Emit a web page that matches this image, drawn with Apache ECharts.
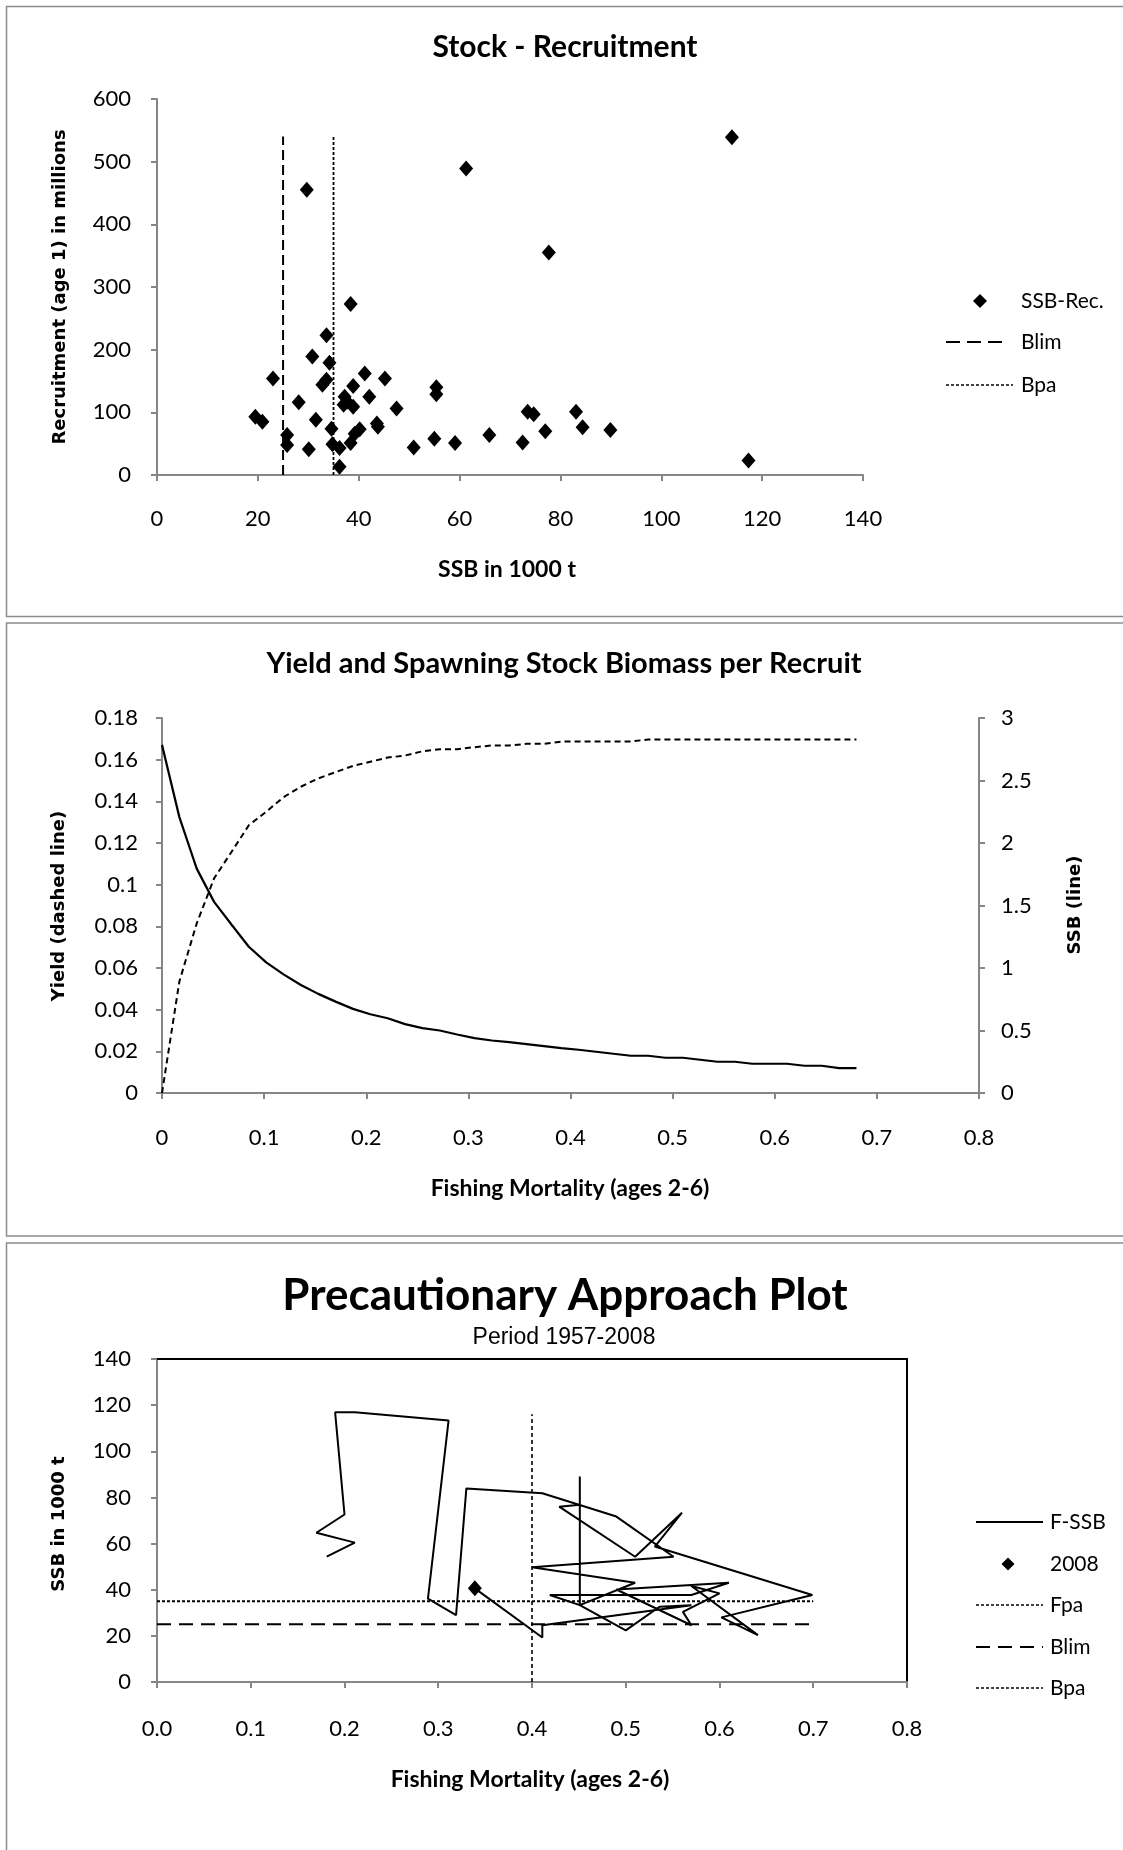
<!DOCTYPE html>
<html>
<head>
<meta charset="utf-8">
<title>Stock - Recruitment</title>
<script src="https://cdn.jsdelivr.net/npm/echarts@6.0.0/dist/echarts.min.js"></script>
<style>
  html, body { margin: 0; padding: 0; background: #fff; }
  #chart { width: 1123px; height: 1850px; }
</style>
</head>
<body>
<div id="chart"></div>
<script>
// stock - recruitment (SSB in 1000 t, recruits in millions)
var ssbValues = [61.3, 29.7, 38.4, 33.6, 30.8, 34.2, 23.0, 41.2, 45.2, 33.6, 32.8, 38.9, 55.4, 55.4, 42.1, 37.2, 28.1,
                 37.7, 37.0, 38.9, 47.5, 19.5, 20.9, 31.5, 43.6, 43.8, 34.6, 40.2, 39.2, 65.9, 25.8, 55.0, 25.8, 38.4,
                 34.8, 59.1, 30.1, 36.2, 50.9, 36.2, 114.0, 77.7, 73.5, 74.7, 83.1, 77.0, 84.4, 89.9, 72.5, 117.3];
var recValues = [489, 455, 273, 223, 189, 179, 154, 162, 154, 152, 144, 142, 140, 129, 125, 125, 116,
                 117, 112, 109, 106, 93, 85, 88, 82, 77, 74, 73, 66, 64, 64, 58, 48, 51,
                 49, 51, 41, 43, 44, 13, 539, 355, 101, 97, 101, 70, 76, 72, 52, 23];
var blim = 25, bpa = 35, refTop = 540;

// yield and SSB per recruit
var fMort = [0, 0.017, 0.034, 0.051, 0.068, 0.085, 0.102, 0.119, 0.136, 0.153, 0.17, 0.187, 0.204, 0.221,
             0.238, 0.255, 0.272, 0.289, 0.306, 0.323, 0.34, 0.357, 0.374, 0.391, 0.408, 0.425, 0.442, 0.459,
             0.476, 0.493, 0.51, 0.527, 0.544, 0.561, 0.578, 0.595, 0.612, 0.629, 0.646, 0.663, 0.68];
var yieldPR = [0, 0.0535, 0.0814, 0.103, 0.1157, 0.1285, 0.135, 0.142, 0.147, 0.151, 0.154, 0.157, 0.159, 0.161,
               0.162, 0.164, 0.165, 0.165, 0.166, 0.1668, 0.1668, 0.1676, 0.1676, 0.1687, 0.1687, 0.1687, 0.1687, 0.1687,
               0.1697, 0.1697, 0.1697, 0.1697, 0.1697, 0.1697, 0.1697, 0.1697, 0.1697, 0.1697, 0.1697, 0.1697, 0.1697];
var ssbPR = [2.785, 2.207, 1.795, 1.529, 1.348, 1.170, 1.045, 0.949, 0.864, 0.793, 0.731, 0.673, 0.630, 0.598,
             0.551, 0.519, 0.500, 0.468, 0.439, 0.420, 0.407, 0.391, 0.375, 0.359, 0.346, 0.330, 0.314, 0.298,
             0.298, 0.282, 0.282, 0.266, 0.250, 0.250, 0.234, 0.234, 0.234, 0.218, 0.218, 0.199, 0.199];

// precautionary approach plot, F-SSB path 1957-2008
var fPath = [0.181, 0.211, 0.170, 0.200, 0.190, 0.211, 0.311, 0.289, 0.319, 0.330, 0.411, 0.490, 0.551, 0.400,
             0.510, 0.451, 0.451, 0.451, 0.429, 0.510, 0.560, 0.531, 0.699, 0.602, 0.641, 0.570, 0.600, 0.561,
             0.570, 0.490, 0.610, 0.570, 0.419, 0.451, 0.500, 0.536, 0.570, 0.411, 0.411, 0.339];
var ssbPath = [54.3, 60.4, 64.7, 72.6, 116.9, 116.9, 113.3, 36.1, 29.0, 83.9, 81.8, 71.7, 54.3, 49.7,
               43.0, 33.3, 89.1, 76.8, 76.0, 54.3, 73.4, 58.7, 37.7, 28.0, 20.3, 41.6, 38.4, 30.4,
               24.6, 40.1, 43.0, 37.7, 37.7, 33.3, 22.4, 32.6, 33.3, 24.6, 19.3, 40.6];
var point2008 = [0.339, 40.6];
var fpa = 0.4, fpaTop = 116, refRight = 0.7;

function zip(a, b) {
    var out = [];
    for (var i = 0; i < a.length; i++) out.push([a[i], b[i]]);
    return out;
}

var grey = '#868686';
var calibri = 'Lato, "Noto Sans", sans-serif';
var narrow = '"Liberation Sans Narrow", Lato, sans-serif';
var verdana = '"DejaVu Sans", Verdana, sans-serif';

function valueAxis(grid, min, max, interval, margin, extra) {
    var ax = {
        type: 'value', gridIndex: grid, min: min, max: max, interval: interval,
        splitLine: { show: false },
        axisLine: { show: true, onZero: false, lineStyle: { color: grey, width: 2 } },
        axisTick: { show: true, inside: false, length: 6, lineStyle: { color: grey, width: 2 } },
        axisLabel: { color: '#000', fontFamily: narrow, fontSize: 22, margin: margin }
    };
    for (var k in extra) ax[k] = extra[k];
    return ax;
}

function frameAxis(grid, pos, min, max) {
    return {
        type: 'value', gridIndex: grid, position: pos, min: min, max: max,
        splitLine: { show: false }, axisTick: { show: false }, axisLabel: { show: false },
        axisLine: { show: true, onZero: false, lineStyle: { color: '#000', width: 2 } }
    };
}

function txt(x, y, s, font, align, rot) {
    return {
        type: 'text', x: x, y: y, rotation: rot || 0, z: 10, silent: true,
        style: { text: s, font: font, fill: '#000', align: align || 'center', verticalAlign: 'middle' }
    };
}

function seg(x1, y1, x2, y2, dash, w) {
    return {
        type: 'line', z: 10, silent: true,
        shape: { x1: x1, y1: y1, x2: x2, y2: y2 },
        style: { stroke: '#000', lineWidth: w || 2, lineDash: dash || null }
    };
}

function diamond(cx, cy, r) {
    return {
        type: 'polygon', z: 10, silent: true,
        shape: { points: [[cx, cy - r], [cx + r, cy], [cx, cy + r], [cx - r, cy]] },
        style: { fill: '#000' }
    };
}

function frame(y, h) {
    return {
        type: 'rect', silent: true,
        shape: { x: 6.5, y: y, width: 1140, height: h },
        style: { fill: 'none', stroke: '#8c8c8c', lineWidth: 1.5 }
    };
}

var chart = echarts.init(document.getElementById('chart'));

chart.setOption({
    animation: false,
    backgroundColor: '#fff',
    grid: [
        { left: 157, top: 99, width: 706, height: 376, outerBoundsMode: 'none' },
        { left: 162, top: 718, width: 817, height: 375, outerBoundsMode: 'none' },
        { left: 157, top: 1359, width: 750, height: 323, outerBoundsMode: 'none' }
    ],
    xAxis: [
        valueAxis(0, 0, 140, 20, 33),
        valueAxis(1, 0, 0.8, 0.1, 34),
        valueAxis(2, 0, 0.8, 0.1, 36, { axisLabel: { color: '#000', fontFamily: narrow, fontSize: 22, margin: 36,
            formatter: function (v) { return v.toFixed(1); } } }),
        frameAxis(2, 'top', 0, 0.8)
    ],
    yAxis: [
        valueAxis(0, 0, 600, 100, 26),
        valueAxis(1, 0, 0.18, 0.02, 24),
        valueAxis(1, 0, 3, 0.5, 22, { position: 'right' }),
        valueAxis(2, 0, 140, 20, 26),
        frameAxis(2, 'right', 0, 140)
    ],
    series: [
        {
            name: 'SSB-Rec.', type: 'scatter', xAxisIndex: 0, yAxisIndex: 0,
            symbol: 'diamond', symbolSize: [14, 16], itemStyle: { color: '#000', opacity: 1 },
            data: zip(ssbValues, recValues)
        },
        {
            name: 'Blim', type: 'line', xAxisIndex: 0, yAxisIndex: 0, showSymbol: false,
            lineStyle: { color: '#000', width: 2, type: [10, 5] },
            data: [[blim, 0], [blim, refTop]]
        },
        {
            name: 'Bpa', type: 'line', xAxisIndex: 0, yAxisIndex: 0, showSymbol: false,
            lineStyle: { color: '#000', width: 1.8, type: [3, 2] },
            data: [[bpa, 0], [bpa, refTop]]
        },
        {
            name: 'Yield', type: 'line', xAxisIndex: 1, yAxisIndex: 1, showSymbol: false,
            lineStyle: { color: '#000', width: 2, type: [6, 4] },
            data: zip(fMort, yieldPR)
        },
        {
            name: 'SSB', type: 'line', xAxisIndex: 1, yAxisIndex: 2, showSymbol: false,
            lineStyle: { color: '#000', width: 2.2 },
            data: zip(fMort, ssbPR)
        },
        {
            name: 'F-SSB', type: 'line', xAxisIndex: 2, yAxisIndex: 3, showSymbol: false,
            lineStyle: { color: '#000', width: 2 },
            data: zip(fPath, ssbPath)
        },
        {
            name: '2008', type: 'scatter', xAxisIndex: 2, yAxisIndex: 3,
            symbol: 'diamond', symbolSize: [14, 16], itemStyle: { color: '#000', opacity: 1 },
            data: [point2008]
        },
        {
            name: 'Fpa', type: 'line', xAxisIndex: 2, yAxisIndex: 3, showSymbol: false,
            lineStyle: { color: '#000', width: 1.6, type: [4, 3] },
            data: [[fpa, 0], [fpa, fpaTop]]
        },
        {
            name: 'Blim ', type: 'line', xAxisIndex: 2, yAxisIndex: 3, showSymbol: false,
            lineStyle: { color: '#000', width: 2, type: [14, 8] },
            data: [[0, blim], [refRight, blim]]
        },
        {
            name: 'Bpa ', type: 'line', xAxisIndex: 2, yAxisIndex: 3, showSymbol: false,
            lineStyle: { color: '#000', width: 2.2, type: [3, 2] },
            data: [[0, bpa], [refRight, bpa]]
        }
    ],
    graphic: [
        frame(6.5, 610), frame(623, 613), frame(1243, 700),

        // panel 1
        txt(565, 47, 'Stock - Recruitment', 'bold 30px ' + calibri),
        txt(60, 287, 'Recruitment (age 1) in millions', 'bold 18px ' + verdana, 'center', Math.PI / 2),
        txt(507, 570, 'SSB in 1000 t', 'bold 23px ' + calibri),
        diamond(980, 301, 7),
        txt(1021, 301, 'SSB-Rec.', '21px ' + narrow, 'left'),
        seg(946, 342, 1006, 342, [14, 7], 2),
        txt(1021, 342, 'Blim', '21px ' + narrow, 'left'),
        seg(946, 385, 1013, 385, [3, 2], 1.5),
        txt(1021, 385, 'Bpa', '21px ' + narrow, 'left'),

        // panel 2
        txt(564, 664, 'Yield and Spawning Stock Biomass per Recruit', 'bold 29px ' + calibri),
        txt(59, 906, 'Yield (dashed line)', 'bold 18px ' + verdana, 'center', Math.PI / 2),
        txt(1075, 905, 'SSB (line)', 'bold 18px ' + verdana, 'center', Math.PI / 2),
        txt(570, 1189, 'Fishing Mortality (ages 2-6)', 'bold 23px ' + calibri),

        // panel 3
        txt(565, 1296, 'Precautionary Approach Plot', 'bold 44px ' + calibri),
        txt(564, 1338, 'Period 1957-2008', '23px "Liberation Sans", Arial, sans-serif'),
        txt(59, 1524, 'SSB in 1000 t', 'bold 18px ' + verdana, 'center', Math.PI / 2),
        txt(530, 1780, 'Fishing Mortality (ages 2-6)', 'bold 23px ' + calibri),
        seg(976, 1522, 1043, 1522, null, 2),
        txt(1050, 1522, 'F-SSB', '21px ' + narrow, 'left'),
        diamond(1008, 1564, 6.5),
        txt(1050, 1564, '2008', '21px ' + narrow, 'left'),
        seg(976, 1605, 1043, 1605, [3, 2], 1.5),
        txt(1050, 1605, 'Fpa', '21px ' + narrow, 'left'),
        seg(976, 1647, 1043, 1647, [14, 8], 2),
        txt(1050, 1647, 'Blim', '21px ' + narrow, 'left'),
        seg(976, 1688, 1043, 1688, [3, 2], 1.5),
        txt(1050, 1688, 'Bpa', '21px ' + narrow, 'left')
    ]
});
</script>
</body>
</html>
